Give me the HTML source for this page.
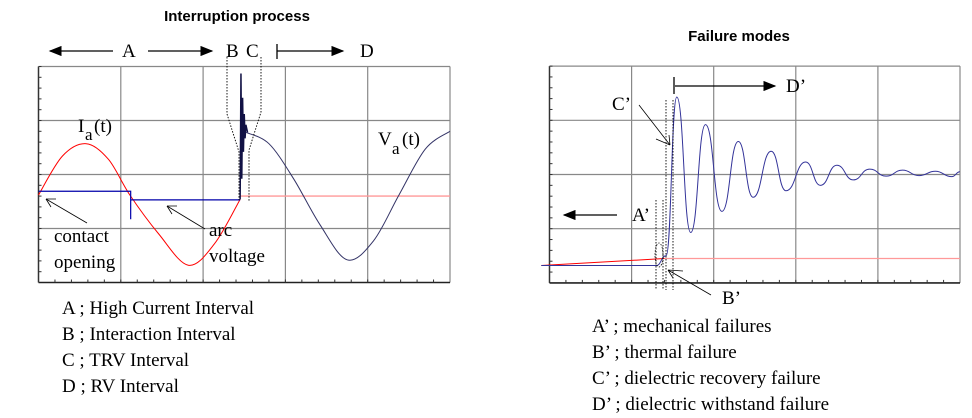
<!DOCTYPE html>
<html><head><meta charset="utf-8"><style>
body{margin:0;background:#fff;width:972px;height:418px;overflow:hidden}
svg{display:block}
.s{font-family:"Liberation Serif",serif;font-size:19px;fill:#000}
.t{font-family:"Liberation Sans",sans-serif;font-size:15px;font-weight:bold;fill:#000}
</style></head><body>
<svg id="c" width="972" height="418" viewBox="0 0 972 418">
<defs><marker id="ah" markerWidth="10" markerHeight="8" refX="9" refY="4" orient="auto"><path d="M0,0 L10,4 L0,8z" fill="#000"/></marker></defs>
<text class="t" x="237" y="21" text-anchor="middle">Interruption process</text>
<text class="t" x="739" y="41" text-anchor="middle">Failure modes</text>
<g id="L"></g>
<g id="R"></g>
<g stroke="#000" stroke-width="1.3" fill="none">
<line x1="113" y1="51" x2="50" y2="51" marker-end="url(#ah)"/>
<line x1="148" y1="51" x2="212" y2="51" marker-end="url(#ah)"/>
<line x1="277" y1="44" x2="277" y2="59"/>
<line x1="277" y1="51" x2="343" y2="51" marker-end="url(#ah)"/>
<line x1="87" y1="223" x2="46" y2="199" stroke-width="0.8"/>
<line x1="205" y1="229" x2="167" y2="206" stroke-width="0.8"/>
<path d="M46,199 l10,0 M46,199 l5,8 M167,206 l10,0 M167,206 l5,8" stroke-width="0.8"/>
<path d="M227,57 V114 L239,152 V200 M261,57 V112 L249,150 V202" stroke-width="0.9" stroke-dasharray="1.5,1.5"/>
</g>
<g class="s">
<text x="122" y="57">A</text><text x="226" y="57">B</text><text x="246" y="57">C</text><text x="360" y="57">D</text>
<text x="78" y="132">I</text><text x="85" y="140" font-size="17">a</text><text x="94" y="132">(t)</text>
<text x="378" y="145">V</text><text x="392" y="154" font-size="17">a</text><text x="402" y="145">(t)</text>
<text x="54" y="242">contact</text><text x="54" y="268">opening</text>
<text x="209" y="236">arc</text><text x="209" y="262">voltage</text>
<text x="62" y="314">A ; High Current Interval</text>
<text x="62" y="340">B ; Interaction Interval</text>
<text x="62" y="366">C ; TRV Interval</text>
<text x="62" y="392">D ; RV Interval</text>
<text x="592" y="332">A’ ; mechanical failures</text>
<text x="592" y="358">B’ ; thermal failure</text>
<text x="592" y="384">C’ ; dielectric recovery failure</text>
<text x="592" y="410">D’ ; dielectric withstand failure</text>
<text x="612" y="110">C’</text><text x="786" y="92">D’</text><text x="632" y="221">A’</text><text x="722" y="304">B’</text>
</g>
<g stroke="#000" stroke-width="1.3" fill="none">
<line x1="674" y1="77" x2="674" y2="94"/>
<line x1="675" y1="86" x2="775" y2="86" marker-end="url(#ah)"/>
<line x1="617" y1="215" x2="564" y2="215" marker-end="url(#ah)"/>
<path d="M639,105 L670,145 M670,145 l-1,-10 M670,145 l-14,-6 M711,295 L668,270 M668,270 l15,1 M668,270 l5,8" stroke-width="0.8"/>
<path d="M656,200 V290 M663,200 V290 M666,100 V290 M673,100 V290" stroke-width="0.9" stroke-dasharray="1.5,1.5"/>
<ellipse cx="659" cy="255" rx="4" ry="12" stroke-width="0.8" stroke-dasharray="1.5,1.5"/>
</g>
</svg>
<script>
// Left chart data (time in grid divisions 0..5, value in divisions)
const leftCurrentT=[0,0.29,0.58,0.85,1.11,1.46,1.82,2.14,2.45];
const leftCurrentV=[0,0.72,0.95,0.66,0,-0.72,-1.3,-0.9,-0.08];
const leftArcT=[0,1.12,1.12,1.12,2.45];
const leftArcV=[0.07,0.07,-0.45,-0.09,-0.09];
const leftTrvT=[2.52,2.8,3.1,3.42,3.75,4.07,4.38,4.7,5];
const leftTrvV=[1.16,0.95,0.3,-0.55,-1.2,-0.85,0.0,0.85,1.18];
const leftSpikeT=[2.45,2.46,2.47,2.48,2.49,2.5,2.51,2.52,2.54];
const leftSpikeV=[-0.08,2.25,0.3,1.8,0.8,1.5,1.05,1.3,1.16];
const leftZeroT=[2.45,5];
const leftZeroV=[-0.02,-0.02];
// Right chart data
const rightExtT=[-0.1,1.3,1.42,1.55,1.72,1.9,2.1,2.3,2.48,2.7,2.88,3.12,3.3,3.5,3.7,3.9,4.1,4.3,4.5,4.7,4.9,5.0];
const rightExtV=[-1.68,-1.68,-1.5,1.43,-1.07,0.92,-0.68,0.61,-0.42,0.43,-0.3,0.23,-0.2,0.17,-0.1,0.1,-0.03,0.08,-0.02,0.06,-0.04,0.05];
const rightRedT=[-0.1,1.4];
const rightRedV=[-1.68,-1.55];
const rightZeroT=[1.4,5];
const rightZeroV=[-1.55,-1.55];
const NS='http://www.w3.org/2000/svg';
function mk(tag,at,par){const e=document.createElementNS(NS,tag);for(const k in at)e.setAttribute(k,at[k]);par.appendChild(e);return e;}
function plot(g,x0,y0,cw,ch,base){
  const sx=t=>x0+t*cw, sy=v=>base-v*ch;
  for(let i=0;i<=5;i++){const l=mk('line',{x1:sx(i),x2:sx(i),y1:y0-ch*2,y2:y0+ch*2,stroke:i==0?'#333':'#888','stroke-width':i==0?1.5:1.2},g);
  
  }
  for(let j=0;j<=4;j++){const l=mk('line',{x1:sx(0),x2:sx(5),y1:y0-2*ch+j*ch,y2:y0-2*ch+j*ch,stroke:j==4?'#222':'#888','stroke-width':j==4?1.6:1.2},g);
  
  }
  for(let i=0;i<25;i++){mk('line',{x1:sx(i/5),x2:sx(i/5),y1:y0+2*ch,y2:y0+2*ch-3,stroke:'#333'},g);}
  for(let j=0;j<20;j++){mk('line',{x1:sx(0),x2:sx(0)+3,y1:y0-2*ch+j*ch/5,y2:y0-2*ch+j*ch/5,stroke:'#333'},g);}
  return {sx,sy};
}
function smooth(ts,vs,sx,sy){const p=ts.map((t,i)=>[sx(t),sy(vs[i])]);
  let d='M'+p[0][0]+','+p[0][1];
  for(let i=1;i<p.length;i++){const a=p[i-1],b=p[i];const m=(b[0]-a[0])/2;d+=` C${a[0]+m},${a[1]} ${b[0]-m},${b[1]} ${b[0]},${b[1]}`;}
  return d;}
function cr(ts,vs,sx,sy){const p=ts.map((t,i)=>[sx(t),sy(vs[i])]);
  let d='M'+p[0][0]+','+p[0][1];
  for(let i=0;i<p.length-1;i++){const p0=p[Math.max(0,i-1)],p1=p[i],p2=p[i+1],p3=p[Math.min(p.length-1,i+2)];
    const c1=[p1[0]+(p2[0]-p0[0])/6,p1[1]+(p2[1]-p0[1])/6],c2=[p2[0]-(p3[0]-p1[0])/6,p2[1]-(p3[1]-p1[1])/6];
    d+=` C${c1[0]},${c1[1]} ${c2[0]},${c2[1]} ${p2[0]},${p2[1]}`;}
  return d;}
function poly(ts,vs,sx,sy){return 'M'+ts.map((t,i)=>sx(t)+','+sy(vs[i])).join(' L');}
const L=document.getElementById('L'),R=document.getElementById('R');
const a=plot(L,38.5,174.5,82.3,54,195);
let e=mk('path',{d:cr(leftCurrentT,leftCurrentV,a.sx,a.sy),fill:'none',stroke:'#f00','stroke-width':1},L);


e=mk('path',{d:poly(leftZeroT,leftZeroV,a.sx,a.sy),fill:'none',stroke:'#f99','stroke-width':1.3},L);


e=mk('path',{d:poly(leftArcT,leftArcV,a.sx,a.sy),fill:'none',stroke:'#00a','stroke-width':1.2},L);


e=mk('path',{d:poly(leftSpikeT,leftSpikeV,a.sx,a.sy),fill:'none',stroke:'#114','stroke-width':1.5},L);


e=mk('path',{d:cr(leftTrvT,leftTrvV,a.sx,a.sy),fill:'none',stroke:'#336','stroke-width':1},L);


const b=plot(R,549.5,174.5,82.1,54.2,174.5);
e=mk('path',{d:poly(rightRedT,rightRedV,b.sx,b.sy),fill:'none',stroke:'#f00','stroke-width':1},R);


e=mk('path',{d:poly(rightZeroT,rightZeroV,b.sx,b.sy),fill:'none',stroke:'#f99','stroke-width':1.3},R);


e=mk('path',{d:smooth(rightExtT,rightExtV,b.sx,b.sy),fill:'none',stroke:'#339','stroke-width':1},R);


</script>
</body></html>
